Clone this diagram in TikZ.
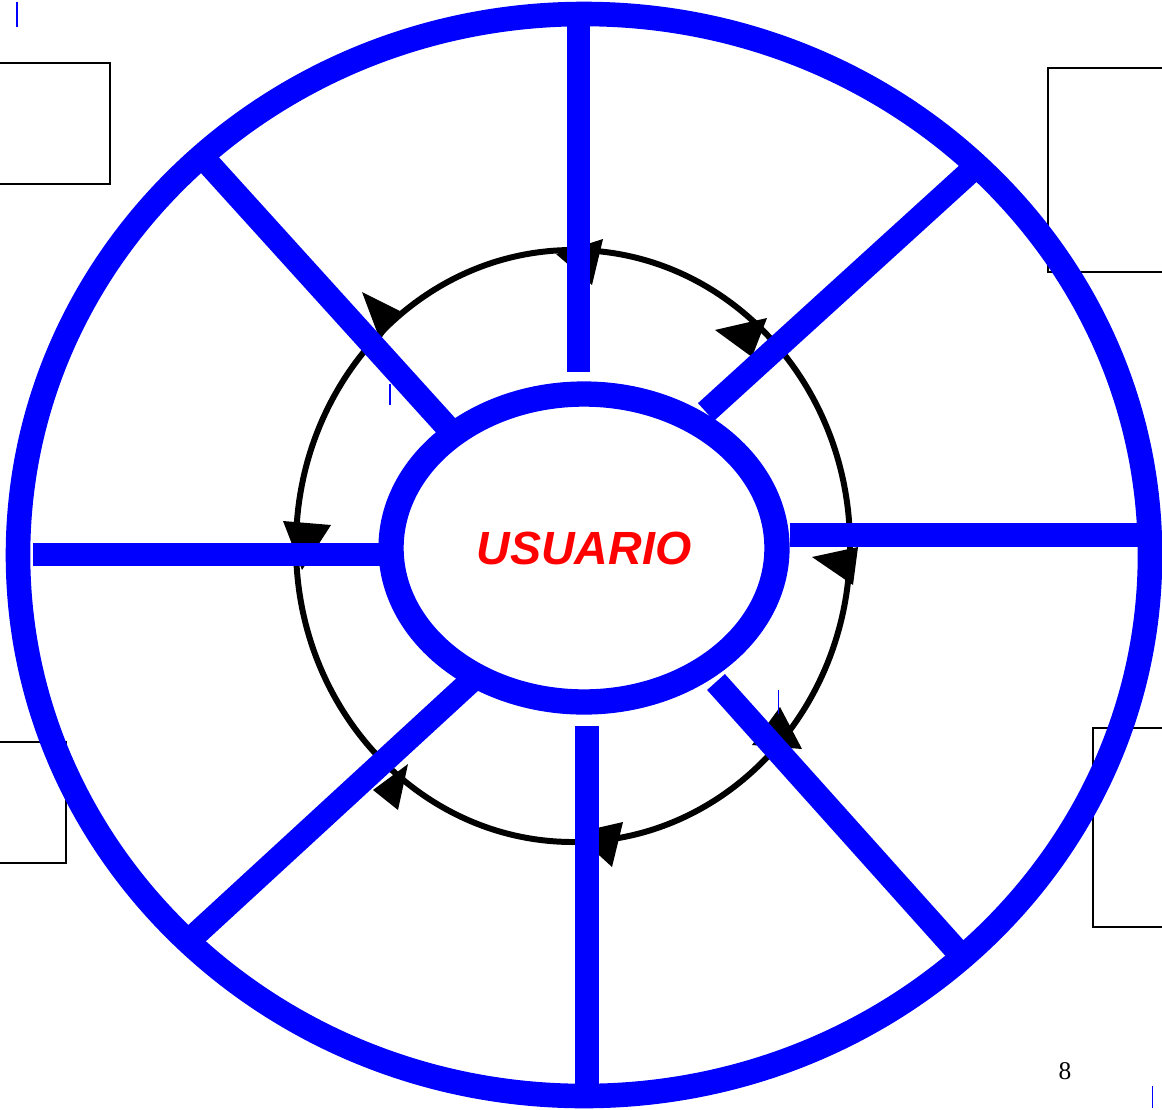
\documentclass[tikz,border=0pt]{standalone}
\usepackage{fontspec}
\setmainfont{Liberation Serif}
\newfontfamily\labelfont{Liberation Sans}
\usetikzlibrary{shapes.geometric,calc}
\definecolor{ringblue}{HTML}{0000FF}
\definecolor{userred}{HTML}{FF0000}
\tikzset{
  frame/.style={draw=black, line width=0.85pt},
  ring/.style={draw=ringblue, line width=14pt},
  spoke/.style={draw=ringblue, line width=13.6pt},
  orbit/.style={draw=black, line width=3.4pt},
  tip/.style={fill=black},
  tick/.style={draw=ringblue, line width=0.6pt},
  userring/.style={ellipse, draw=ringblue, line width=14.4pt, inner sep=0pt,
    minimum width=7.72cm, minimum height=6.16cm, text=userred,
    font=\labelfont\bfseries\itshape\fontsize{26.5}{30}\selectfont}
}
\begin{document}
\begin{tikzpicture}[x=0.02cm, y=-0.02cm]
  \useasboundingbox (0,0) rectangle (1162,1109);
  \clip (0,0) rectangle (1162,1109);
  % side frames
  \draw[frame] (-10,63) rectangle (110,184);
  \draw[frame] (1048,68) rectangle (1180,272);
  \draw[frame] (-10,742) rectangle (66,863);
  \draw[frame] (1093,728) rectangle (1180,927);
  % cycle round the user
  \draw[orbit] (573,546) ellipse [x radius=277, y radius=296];
  \fill[tip] (603,239) -- (592,285) -- (556,254) -- cycle;
  \fill[tip] (715,330) -- (767,318) -- (752,357) -- cycle;
  \fill[tip] (812,557) -- (858,547) -- (853,585) -- cycle;
  \fill[tip] (780,707) -- (802,749) -- (752,745) -- cycle;
  \fill[tip] (623,822) -- (612,867) -- (575,833) -- cycle;
  \fill[tip] (408,764) -- (398,810) -- (373,790) -- cycle;
  \fill[tip] (283,521) -- (331,525) -- (302,570) -- cycle;
  \fill[tip] (362,292) -- (400,311) -- (380,340) -- cycle;
  % spoke ends
  \coordinate (nIn) at (578.5,372);  \coordinate (nOut) at (578.5,20);
  \coordinate (neIn) at (706,412);   \coordinate (neOut) at (972,170);
  \coordinate (eIn) at (790,535);    \coordinate (eOut) at (1145,535);
  \coordinate (seIn) at (716,682);   \coordinate (seOut) at (958,952);
  \coordinate (sIn) at (587,726);    \coordinate (sOut) at (587,1090);
  \coordinate (swIn) at (470,682);   \coordinate (swOut) at (195,935);
  \coordinate (wIn) at (385,554.5);  \coordinate (wOut) at (33,554.5);
  \coordinate (nwIn) at (448,428);   \coordinate (nwOut) at (208,163);
  \foreach \dir in {n,ne,e,se,s,sw,w,nw}
    \draw[spoke] (\dir In) -- (\dir Out);
  % user and outer ring
  \node[userring] (user) at (584,548) {USUARIO};
  \draw[ring] (584,555) ellipse [x radius=566, y radius=541];
  % small marks
  \draw[tick] (17,2) -- (17,27);
  \draw[tick] (390,384) -- (390,405);
  \draw[tick] (778.5,690) -- (778.5,714);
  \draw[tick] (1152.5,1086) -- (1152.5,1108);
  \node[font=\fontsize{14.5}{16}\selectfont] (page) at (1065,1071) {8};
\end{tikzpicture}
\end{document}
